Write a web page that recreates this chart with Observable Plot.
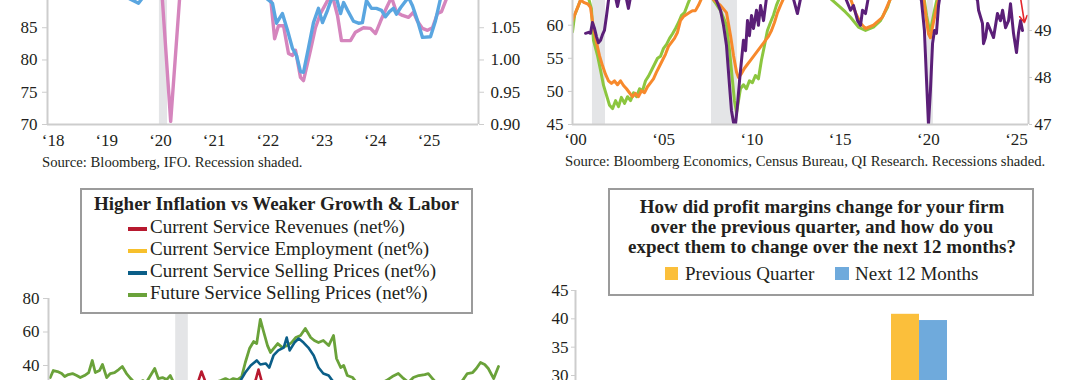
<!DOCTYPE html>
<html><head><meta charset="utf-8">
<script src="https://cdn.jsdelivr.net/npm/d3@7"></script>
<script src="https://cdn.jsdelivr.net/npm/@observablehq/plot@0.6"></script>
<style>
html,body{margin:0;padding:0;background:#fff;overflow:hidden;}
#root{position:relative;width:1080px;height:380px;overflow:hidden;background:#fff;}
#root > svg, #root > figure{position:absolute;margin:0;}
</style></head>
<body><div id="root"></div>
<script>
// ---------------- DATA ----------------
// Top-left panel: IFO index (left axis, pink) and ratio (right axis, blue); decimal years
const ifoSeries = [[2017.9,94],[2018.3,95],[2018.7,93],[2019.1,92],[2019.5,91],[2019.8,91],[2020.03,90],[2020.19,70.5],[2020.36,90],[2020.6,92],[2021.0,94],[2021.4,95],[2021.8,92],[2022.05,89.7],[2022.125,83.3],[2022.197,85.3],[2022.291,85.3],[2022.384,81.0],[2022.458,80.7],[2022.514,81.5],[2022.607,77.3],[2022.663,76.8],[2022.793,81.5],[2022.886,85.0],[2022.98,87.2],[2023.11,89.2],[2023.2,90],[2023.296,86.9],[2023.37,83.0],[2023.445,83.0],[2023.538,83.0],[2023.631,84.3],[2023.78,85.0],[2023.91,84.9],[2024.004,84.1],[2024.097,86.0],[2024.209,88.1],[2024.302,89.7],[2024.395,87.4],[2024.507,86.9],[2024.618,86.6],[2024.711,87.4],[2024.786,86.0],[2024.879,84.9],[2024.972,84.6],[2025.065,85.0],[2025.158,87.2],[2025.233,87.5],[2025.326,89.5],[2025.4,91],[2025.6,92],[2025.9,92]];
const ratioSeries = [[2017.9,1.12],[2018.4,1.13],[2018.9,1.11],[2019.3,1.10],[2019.59,1.088],[2019.7,1.10],[2020.0,1.11],[2020.5,1.12],[2021.0,1.13],[2021.5,1.12],[2021.95,1.097],[2022.086,1.088],[2022.16,1.057],[2022.27,1.072],[2022.365,1.046],[2022.458,1.018],[2022.533,1.007],[2022.607,0.982],[2022.663,0.981],[2022.756,1.019],[2022.849,1.058],[2022.942,1.080],[2023.017,1.058],[2023.11,1.077],[2023.186,1.095],[2023.28,1.095],[2023.354,1.072],[2023.41,1.089],[2023.483,1.077],[2023.594,1.060],[2023.687,1.057],[2023.76,1.058],[2023.836,1.092],[2023.929,1.080],[2024.022,1.080],[2024.116,1.077],[2024.19,1.067],[2024.264,1.075],[2024.339,1.080],[2024.395,1.071],[2024.47,1.081],[2024.544,1.089],[2024.618,1.097],[2024.693,1.084],[2024.786,1.061],[2024.879,1.035],[2025.028,1.036],[2025.121,1.061],[2025.214,1.095],[2025.3,1.11],[2025.6,1.12],[2025.9,1.12]];
const recessionA = [[2019.98, 2020.13]];
const yearTicksA = [2018,2019,2020,2021,2022,2023,2024,2025];
const leftTicksA = [70,75,80,85];
const rightTicksA = [0.90,0.95,1.00,1.05];

// Top-right panel: orange & green (left axis), purple (right axis)
const orangeSeries = [[1999.83,60.7],[2000.0,61.9],[2000.17,63.0],[2000.28,63.8],[2000.5,63.4],[2000.7,63.2],[2000.85,62.7],[2001.02,59.5],[2001.19,57.4],[2001.36,55.4],[2001.53,53.9],[2001.7,52.6],[2001.87,51.6],[2002.04,51.2],[2002.21,51.6],[2002.38,51.0],[2002.55,51.6],[2002.72,50.9],[2002.89,50.4],[2003.06,49.8],[2003.23,49.2],[2003.4,49.7],[2003.57,49.2],[2003.74,50.1],[2003.91,49.8],[2004.08,50.7],[2004.25,51.3],[2004.42,51.9],[2004.59,52.9],[2004.76,53.8],[2004.93,54.7],[2005.1,55.6],[2005.27,56.8],[2005.44,57.4],[2005.61,58.0],[2005.78,58.9],[2005.95,60.7],[2006.12,61.3],[2006.29,61.6],[2006.46,61.9],[2006.63,62.2],[2006.8,62.2],[2006.97,63.0],[2007.14,64.0],[2007.5,65.0],[2007.77,64.0],[2008.22,63.0],[2008.56,61.9],[2008.79,58.4],[2008.96,55.4],[2009.13,52.9],[2009.24,52.1],[2009.41,52.7],[2009.58,53.5],[2009.75,54.1],[2009.92,54.7],[2010.09,55.3],[2010.26,55.9],[2010.43,56.5],[2010.6,57.1],[2010.77,57.7],[2010.94,58.3],[2011.11,59.2],[2011.28,60.4],[2011.45,61.9],[2011.62,63.0],[2011.79,64.0],[2012.5,66.0],[2013.5,67.0],[2014.5,66.0],[2015.3,65.0],[2015.59,64.0],[2015.87,61.9],[2016.16,60.3],[2016.44,59.5],[2016.89,60.0],[2017.4,61.2],[2017.74,63.3],[2017.9,64.2],[2018.5,66.0],[2019.3,65.0],[2019.73,64.0],[2019.9,60.7],[2020.01,58.7],[2020.12,58.1],[2020.29,60.4],[2020.46,62.5],[2020.6,64.2],[2021.5,67.0],[2023.0,66.0],[2024.5,65.0],[2025.6,65.0]];
const greenSeries = [[1999.83,59.0],[1999.95,61.5],[2000.17,63.0],[2000.4,64.5],[2000.7,64.5],[2000.9,62.5],[2001.02,57.7],[2001.25,55.4],[2001.42,53.2],[2001.59,50.9],[2001.76,49.4],[2001.93,47.9],[2002.1,47.4],[2002.27,48.6],[2002.44,47.7],[2002.6,49.1],[2002.78,48.2],[2002.95,49.2],[2003.12,48.6],[2003.29,49.8],[2003.46,49.2],[2003.63,50.4],[2003.8,50.1],[2003.97,51.6],[2004.14,52.3],[2004.31,53.2],[2004.48,54.1],[2004.65,55.0],[2004.82,55.3],[2004.99,56.5],[2005.16,57.1],[2005.33,58.0],[2005.5,58.7],[2005.67,59.5],[2005.84,60.4],[2006.01,61.5],[2006.18,61.9],[2006.35,63.1],[2006.52,64.2],[2007.0,65.5],[2007.5,65.0],[2007.9,63.5],[2008.22,62.2],[2008.56,60.0],[2008.73,56.2],[2008.9,51.6],[2009.01,48.6],[2009.13,46.8],[2009.24,48.6],[2009.35,50.4],[2009.52,51.0],[2009.69,50.4],[2009.86,51.6],[2010.03,51.3],[2010.2,52.4],[2010.37,51.9],[2010.54,54.7],[2010.71,56.9],[2010.88,59.2],[2011.05,60.4],[2011.22,61.5],[2011.39,63.0],[2011.56,64.1],[2012.5,66.0],[2013.5,66.5],[2014.46,64.0],[2015.02,62.7],[2015.3,62.0],[2015.59,61.2],[2016.04,59.7],[2016.44,59.2],[2016.89,59.7],[2017.29,60.7],[2017.69,62.7],[2017.86,64.2],[2018.5,66.0],[2019.4,65.0],[2019.78,63.7],[2019.9,61.5],[2020.07,59.2],[2020.18,60.0],[2020.35,62.2],[2020.52,64.2],[2021.5,67.0],[2023.0,66.0],[2024.5,65.5],[2025.6,65.0]];
const purpleSeries = [[2000.57,48.94],[2000.74,48.96],[2000.85,48.94],[2000.96,49.17],[2001.08,49.04],[2001.19,48.87],[2001.3,48.74],[2001.42,48.79],[2001.53,48.91],[2001.64,49.0],[2001.76,49.32],[2001.87,49.64],[2001.98,49.85],[2002.21,49.81],[2002.38,49.51],[2002.55,49.81],[2002.83,49.77],[2003.0,49.47],[2003.17,49.81],[2003.6,50.0],[2004.5,50.2],[2005.5,50.3],[2006.5,50.1],[2007.5,49.9],[2007.99,49.64],[2008.22,49.43],[2008.39,49.11],[2008.56,48.68],[2008.73,47.83],[2008.84,47.3],[2008.96,47.04],[2009.07,47.0],[2009.18,47.4],[2009.3,47.94],[2009.41,48.36],[2009.52,48.79],[2009.64,48.57],[2009.75,49.21],[2009.86,48.89],[2009.98,49.32],[2010.09,49.04],[2010.26,49.43],[2010.37,49.11],[2010.49,49.53],[2010.66,49.21],[2010.83,49.7],[2011.3,49.9],[2012.3,49.75],[2012.58,49.36],[2012.8,49.75],[2013.5,50.0],[2014.5,49.9],[2015.3,49.7],[2015.59,49.43],[2015.76,49.53],[2015.99,49.21],[2016.16,49.11],[2016.27,49.43],[2016.44,49.36],[2016.6,49.7],[2017.5,50.0],[2018.5,50.1],[2019.3,49.9],[2019.61,49.64],[2019.78,49.0],[2019.9,47.94],[2020.01,47.0],[2020.12,47.72],[2020.24,48.72],[2020.35,49.0],[2020.46,48.94],[2020.58,49.53],[2020.69,49.8],[2021.5,50.2],[2022.4,49.9],[2022.79,49.64],[2022.85,49.43],[2023.07,49.15],[2023.13,48.72],[2023.24,48.85],[2023.36,49.15],[2023.53,49.0],[2023.7,48.85],[2023.92,49.36],[2024.09,49.21],[2024.21,49.43],[2024.38,49.06],[2024.55,49.21],[2024.66,49.57],[2024.83,48.94],[2025.0,48.53],[2025.11,48.94],[2025.23,49.21],[2025.34,49.0]];
const recessionB = [[2000.96,2001.70],[2007.71,2009.18],[2019.95,2020.29]];
const yearTicksB = [2000,2005,2010,2015,2020,2025];
const leftTicksB = [45,50,55,60];
const rightTicksB = [47,48,49];
const arrowB = [{t1:2025.2, v1:64.6, t2:2025.45, v2:60.4}];

// Bottom-left panel: services survey (net %)
const revenuesSeries = [[2018.0,22],[2018.5,25],[2019.0,20],[2019.5,18],[2020.0,15],[2020.2,-30],[2020.35,-10],[2020.45,20],[2020.5,31],[2020.55,36.4],[2020.62,29.9],[2020.8,20],[2021.0,22],[2021.3,28],[2021.45,31],[2021.5,37.6],[2021.55,31],[2021.8,25],[2022.3,20],[2023.0,10],[2024.0,8],[2025.0,5],[2025.5,4]];
const employmentSeries = [[2018.0,15],[2019.0,12],[2020.2,-20],[2020.6,0],[2021.5,20],[2022.0,22],[2023.0,10],[2024.0,5],[2025.5,3]];
const sellingSeries = [[2018.0,24],[2018.5,26],[2019.0,23],[2019.5,20],[2020.0,18],[2020.25,2],[2020.5,10],[2020.8,18],[2021.1,26],[2021.2,31.0],[2021.28,35.8],[2021.37,40.0],[2021.47,43.0],[2021.53,40.6],[2021.62,41.2],[2021.68,38.8],[2021.75,46.0],[2021.83,49.0],[2021.92,50.7],[2021.97,56.7],[2022.02,49.0],[2022.1,53.7],[2022.17,56.1],[2022.25,53.7],[2022.33,50.7],[2022.42,46.0],[2022.5,38.8],[2022.58,35.2],[2022.67,34.0],[2022.73,31.0],[2022.82,28.1],[2023.2,25],[2023.8,22],[2024.5,21],[2025.0,24],[2025.5,23]];
const futureSellingSeries = [[2018.03,32.8],[2018.08,37.0],[2018.15,36.4],[2018.22,35.2],[2018.27,33.4],[2018.33,34.6],[2018.4,35.2],[2018.47,34.0],[2018.53,32.8],[2018.6,34.0],[2018.67,35.8],[2018.73,43.0],[2018.78,35.8],[2018.85,37.0],[2018.9,40.6],[2018.97,32.8],[2019.03,35.2],[2019.1,35.8],[2019.17,37.6],[2019.23,39.4],[2019.3,35.2],[2019.37,32.2],[2019.43,29.9],[2019.5,28.7],[2019.57,31.0],[2019.63,29.9],[2019.7,34.0],[2019.77,38.2],[2019.83,32.2],[2019.9,32.8],[2019.97,31.6],[2020.03,34.0],[2020.1,28.7],[2020.17,22.1],[2020.23,16.1],[2020.33,19.1],[2020.45,23.9],[2020.57,27.5],[2020.67,28.7],[2020.77,29.9],[2020.87,31.0],[2020.95,32.2],[2021.02,31.0],[2021.08,32.2],[2021.15,31.6],[2021.22,33.4],[2021.28,41.8],[2021.35,50.1],[2021.42,54.3],[2021.47,53.1],[2021.53,67.5],[2021.58,60.9],[2021.65,51.9],[2021.7,47.8],[2021.75,50.1],[2021.82,53.1],[2021.9,50.7],[2021.98,51.9],[2022.05,53.7],[2022.12,56.7],[2022.2,57.9],[2022.28,62.1],[2022.37,56.7],[2022.43,54.9],[2022.5,53.7],[2022.58,54.9],[2022.67,51.9],[2022.75,57.9],[2022.8,44.2],[2022.87,38.8],[2022.92,40.0],[2022.98,34.0],[2023.07,32.8],[2023.13,29.9],[2023.23,28.1],[2023.37,27.5],[2023.5,28.7],[2023.63,31.0],[2023.73,33.4],[2023.83,35.2],[2023.9,32.8],[2024.0,29.9],[2024.08,32.8],[2024.17,34.0],[2024.27,34.6],[2024.33,35.2],[2024.4,32.2],[2024.5,28.1],[2024.63,26.9],[2024.77,28.1],[2024.9,31.0],[2024.98,35.2],[2025.07,35.8],[2025.13,38.2],[2025.2,41.8],[2025.27,40.6],[2025.33,38.2],[2025.42,32.2],[2025.5,39.4]];
const recessionC = [[2020.12, 2020.33]];
const leftTicksC = [80,60,40];
const legendTitleC = "Higher Inflation vs Weaker Growth & Labor";
const legendNamesC = ["Current Service Revenues (net%)","Current Service Employment (net%)","Current Service Selling Prices (net%)","Future Service Selling Prices (net%)"];

// Bottom-right panel: profit margins
const marginCategories = ["Increased","Decreased"];
const previousQuarter = [22, 40.8];
const next12Months = [25, 39.7];
const leftTicksD = [30,35,40,45];
const titleLinesD = ["How did profit margins change for your firm","over the previous quarter, and how do you","expect them to change over the next 12 months?"];
const legendNamesD = ["Previous Quarter","Next 12 Months"];

// Captions
const captionA = "Source: Bloomberg, IFO. Recession shaded.";
const captionB = "Source: Bloomberg Economics, Census Bureau, QI Research. Recessions shaded.";

// ---------------- STYLE ----------------
const FONT = "'Liberation Serif','Times New Roman',serif";
const TXT = "#231f20";
const AX = "#cdcdcd";
const SHADE = "#e4e5e7";
const C = {pink:"#d585bd", sky:"#5aa6e0", orange:"#f7892c", lime:"#8cc63f", purple:"#5b1f78",
  red:"#b7192f", gold:"#f7c02c", navy:"#0b5e88", green:"#6aa23a", barGold:"#fbbf3b", barBlue:"#6faadc"};
const style = () => ({background:"transparent", fontFamily:FONT, fontSize:"17px", color:TXT, overflow:"visible"});
const fmtYear = y => "\u2018" + String(y).slice(2);
const pairs = s => s.map(([t,v]) => ({t, v}));
const root = document.getElementById("root");
function place(el, left, top){ el.style.position="absolute"; el.style.left=left+"px"; el.style.top=top+"px"; root.appendChild(el); }

// ---------------- PANEL A ----------------
const aX = [2017.896, 2025.922], aY = [70, 89.22];
const ratioToLeft = r => 70 + (r - 0.9) * 100;
const leftToRatio = v => (v - 70) / 100 + 0.9;
const plotA = Plot.plot({
  width: 540, height: 180, marginLeft: 47, marginRight: 62, marginTop: 0, marginBottom: 56,
  style: style(),
  x: {domain: aX}, y: {domain: aY},
  marks: [
    Plot.rect(recessionA.map(([s,e]) => ({s,e})), {x1:"s", x2:"e", fill:SHADE}),
    Plot.line(pairs(ifoSeries), {x:"t", y:"v", stroke:C.pink, strokeWidth:3.4, clip:true}),
    Plot.line(pairs(ratioSeries), {x:"t", y:d => ratioToLeft(d.v), stroke:C.sky, strokeWidth:3.4, clip:true}),
    Plot.ruleX(aX, {stroke:AX, strokeWidth:2}),
    Plot.ruleY([aY[0]], {stroke:AX, strokeWidth:2}),
    Plot.axisY({ticks:leftTicksA, tickSize:5, tickPadding:5, stroke:AX, label:null}),
    Plot.axisY({anchor:"right", ticks:rightTicksA.map(ratioToLeft), tickFormat:v => leftToRatio(v).toFixed(2), tickSize:5, tickPadding:7, stroke:AX, label:null}),
    Plot.axisX({ticks:yearTicksA, tickFormat:fmtYear, tickSize:0, tickPadding:9, label:null})
  ]
});
place(plotA, 0, 0);

// ---------------- PANEL B ----------------
const bX = [1999.83, 2025.68], bY = [45, 63.73];
const purpleToLeft = r => 45 + (r - 47) * 7.1;
const leftToPurple = v => (v - 45) / 7.1 + 47;
const plotB = Plot.plot({
  width: 540, height: 180, marginLeft: 32, marginRight: 52, marginTop: 0, marginBottom: 56,
  style: style(),
  x: {domain: bX}, y: {domain: bY},
  marks: [
    Plot.rect(recessionB.map(([s,e]) => ({s,e})), {x1:"s", x2:"e", fill:SHADE}),
    Plot.line(pairs(greenSeries), {x:"t", y:"v", stroke:C.lime, strokeWidth:3, clip:true}),
    Plot.line(pairs(orangeSeries), {x:"t", y:"v", stroke:C.orange, strokeWidth:3, clip:true}),
    Plot.line(pairs(purpleSeries), {x:"t", y:d => purpleToLeft(d.v), stroke:C.purple, strokeWidth:3, clip:true}),
    Plot.arrow(arrowB, {x1:"t1", y1:"v1", x2:"t2", y2:"v2", stroke:"#e3262b", strokeWidth:1.6, headLength:7, clip:true}),
    Plot.ruleX(bX, {stroke:AX, strokeWidth:2}),
    Plot.ruleY([bY[0]], {stroke:AX, strokeWidth:2}),
    Plot.axisY({ticks:leftTicksB, tickSize:4, tickPadding:5, stroke:AX, label:null}),
    Plot.axisY({anchor:"right", ticks:rightTicksB.map(purpleToLeft), tickFormat:v => Math.round(leftToPurple(v)), tickSize:3, tickPadding:3, stroke:AX, label:null}),
    Plot.axisX({ticks:yearTicksB, tickFormat:fmtYear, tickSize:0, tickPadding:8, label:null})
  ]
});
place(plotB, 540, 0);

// ---------------- PANEL C ----------------
const cX = [2018, 2025.6], cY = [-40, 80];
const plotC = Plot.plot({
  width: 540, height: 249, marginLeft: 48, marginRight: 36, marginTop: 18, marginBottom: 30,
  style: style(),
  x: {domain: cX, axis: null}, y: {domain: cY},
  marks: [
    Plot.rect(recessionC.map(([s,e]) => ({s,e})), {x1:"s", x2:"e", fill:SHADE}),
    Plot.line(pairs(employmentSeries), {x:"t", y:"v", stroke:C.gold, strokeWidth:2.6, clip:true}),
    Plot.line(pairs(revenuesSeries), {x:"t", y:"v", stroke:C.red, strokeWidth:2.6, clip:true}),
    Plot.line(pairs(futureSellingSeries), {x:"t", y:"v", stroke:C.green, strokeWidth:2.8, clip:true}),
    Plot.line(pairs(sellingSeries), {x:"t", y:"v", stroke:C.navy, strokeWidth:2.6, clip:true}),
    Plot.ruleX([cX[0]], {stroke:AX, strokeWidth:2}),
    Plot.axisY({ticks:leftTicksC, tickSize:5, tickPadding:4, stroke:AX, label:null})
  ]
});
place(plotC, 0, 280);

// ---------------- PANEL D ----------------
const barRows = marginCategories.map((c,i) => ({c, prev: previousQuarter[i], next: next12Months[i]}));
const plotD = Plot.plot({
  width: 540, height: 305, marginLeft: 35, marginRight: 47, marginTop: 20, marginBottom: 30,
  style: style(),
  x: {type:"band", domain: marginCategories, padding: 0, axis: null},
  y: {domain: [0, 45]},
  marks: [
    Plot.barY(barRows, {x:"c", y:"prev", fill:C.barGold, insetLeft:87, insetRight:114}),
    Plot.barY(barRows, {x:"c", y:"next", fill:C.barBlue, insetLeft:115, insetRight:86}),
    Plot.ruleX([marginCategories[0]], {stroke:AX, strokeWidth:2, dx:-114.5}),
    Plot.axisY({ticks:leftTicksD, tickSize:4, tickPadding:3, stroke:AX, label:null})
  ]
});
place(plotD, 540, 270);

// ---------------- TEXT OVERLAY ----------------
const ov = d3.select(root).append("svg").attr("width",1080).attr("height",380)
  .style("position","absolute").style("left","0px").style("top","0px")
  .style("font-family",FONT).style("fill",TXT);

ov.append("text").attr("x",42).attr("y",166.5).attr("font-size",14.7).text(captionA);
ov.append("text").attr("x",565).attr("y",166).attr("font-size",14.7).text(captionB);

// legend box C
ov.append("rect").attr("x",81).attr("y",189).attr("width",391).attr("height",124)
  .attr("fill","#fff").attr("stroke","#9b9b9b").attr("stroke-width",2);
ov.append("text").attr("x",276.5).attr("y",210).attr("text-anchor","middle")
  .attr("font-size",19).attr("font-weight","bold").text(legendTitleC);
const legendColorsC = [C.red, C.gold, C.navy, C.green];
legendNamesC.forEach((n,i) => {
  ov.append("line").attr("x1",128).attr("x2",147).attr("y1",229+22*i).attr("y2",229+22*i)
    .attr("stroke",legendColorsC[i]).attr("stroke-width",4);
  ov.append("text").attr("x",150).attr("y",233+22*i).attr("font-size",19).text(n);
});

// legend box D
ov.append("rect").attr("x",609).attr("y",189).attr("width",424).attr("height",106)
  .attr("fill","#fff").attr("stroke","#9b9b9b").attr("stroke-width",2);
titleLinesD.forEach((l,i) => {
  ov.append("text").attr("x",822).attr("y",213+20*i).attr("text-anchor","middle")
    .attr("font-size",19).attr("font-weight","bold").text(l);
});
ov.append("rect").attr("x",665).attr("y",267).attr("width",13).attr("height",13).attr("fill",C.barGold);
ov.append("text").attr("x",685).attr("y",280).attr("font-size",19).text(legendNamesD[0]);
ov.append("rect").attr("x",835).attr("y",267).attr("width",14).attr("height",13).attr("fill",C.barBlue);
ov.append("text").attr("x",855).attr("y",280).attr("font-size",19).text(legendNamesD[1]);
</script>
</body></html>
